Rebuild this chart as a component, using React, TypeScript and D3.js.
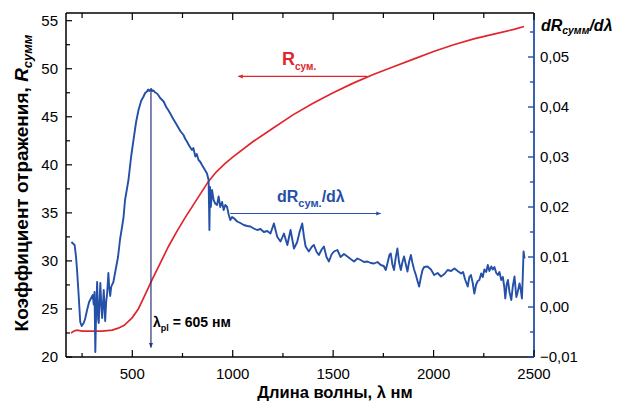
import React from 'react';
import * as d3 from 'd3';

// ---------- data ----------
const xDomain = [170, 2500];
const leftDomain = [20, 55.8];
const rightDomain = [-0.01, 0.0588];

const wavelengthTicks = [500, 1000, 1500, 2000, 2500];
const wavelengthMinor = [250, 750, 1250, 1750, 2250];
const reflTicks = [20, 25, 30, 35, 40, 45, 50, 55];
const reflMinor = [22.5, 27.5, 32.5, 37.5, 42.5, 47.5, 52.5];
const derivTicks = [-0.01, 0, 0.01, 0.02, 0.03, 0.04, 0.05];
const derivMinor = [-0.005, 0.005, 0.015, 0.025, 0.035, 0.045, 0.055];

const redNm = [195, 210, 225, 250, 300, 350, 400, 430, 460, 500, 530, 560, 600, 640, 680, 720, 760, 800, 840, 880, 920, 960, 1000, 1100, 1200, 1300, 1400, 1500, 1600, 1700, 1800, 1900, 2000, 2100, 2200, 2300, 2400, 2450];
const redR = [22.5, 22.7, 22.8, 22.7, 22.7, 22.7, 22.8, 23.0, 23.3, 24.1, 25.0, 26.3, 28.1, 29.8, 31.5, 33.0, 34.4, 35.7, 37.0, 38.3, 39.3, 40.1, 40.8, 42.4, 43.8, 45.2, 46.4, 47.5, 48.5, 49.4, 50.2, 51.0, 51.8, 52.5, 53.1, 53.6, 54.1, 54.4];

const blueNm = [197, 202, 213, 220, 225, 232, 241, 248, 258, 265, 275, 285, 298, 303, 308, 312, 316, 320, 325, 330, 333, 341, 345, 350, 358, 365, 370, 375, 381, 385, 390, 395, 400, 406, 415, 423, 429, 439, 449, 456, 464, 481, 494, 506, 519, 531, 544, 556, 564, 573, 579, 584, 589, 594, 599, 606, 614, 623, 629, 639, 656, 669, 679, 689, 704, 722, 739, 755, 764, 772, 784, 797, 804, 814, 821, 830, 839, 847, 859, 872, 880, 884, 887, 891, 897, 905, 913, 922, 930, 938, 947, 955, 963, 972, 980, 988, 997, 1005, 1022, 1038, 1055, 1072, 1088, 1105, 1122, 1138, 1155, 1172, 1188, 1205, 1222, 1238, 1255, 1272, 1288, 1305, 1321, 1333, 1346, 1355, 1363, 1379, 1393, 1404, 1418, 1429, 1443, 1454, 1467, 1479, 1492, 1504, 1521, 1537, 1554, 1571, 1587, 1604, 1621, 1637, 1654, 1671, 1687, 1704, 1721, 1737, 1752, 1762, 1772, 1780, 1787, 1795, 1803, 1812, 1820, 1828, 1837, 1845, 1853, 1862, 1870, 1878, 1887, 1895, 1903, 1912, 1920, 1928, 1937, 1945, 1953, 1970, 1987, 2003, 2020, 2037, 2054, 2070, 2087, 2104, 2120, 2137, 2147, 2157, 2170, 2178, 2186, 2195, 2203, 2212, 2220, 2228, 2237, 2245, 2253, 2262, 2270, 2278, 2287, 2295, 2303, 2312, 2320, 2328, 2337, 2345, 2352, 2357, 2364, 2370, 2378, 2387, 2394, 2403, 2412, 2419, 2428, 2434, 2440, 2444, 2448, 2453];
const blueD = [0.0130, 0.0128, 0.0124, 0.0100, 0.0074, 0.0030, -0.0030, -0.0038, -0.0032, -0.0024, -0.0006, 0.0010, 0.0020, 0.0024, 0.0005, 0.0030, -0.0090, -0.0010, 0.0050, -0.0025, -0.0032, 0.0048, 0.0010, -0.0022, 0.0034, -0.0028, 0.0010, 0.0028, 0.0068, 0.0040, 0.0022, 0.0040, 0.0045, 0.0050, 0.0070, 0.0087, 0.0100, 0.0135, 0.0160, 0.0178, 0.0214, 0.0254, 0.0300, 0.0334, 0.0370, 0.0394, 0.0412, 0.0421, 0.0428, 0.0431, 0.0435, 0.0432, 0.0434, 0.0436, 0.0432, 0.0433, 0.0429, 0.0427, 0.0424, 0.0418, 0.0411, 0.0400, 0.0394, 0.0387, 0.0376, 0.0364, 0.0352, 0.0344, 0.0336, 0.0331, 0.0322, 0.0314, 0.0318, 0.0301, 0.0306, 0.0294, 0.0290, 0.0284, 0.0276, 0.0267, 0.0254, 0.0154, 0.0240, 0.0200, 0.0234, 0.0214, 0.0207, 0.0204, 0.0221, 0.0200, 0.0210, 0.0194, 0.0204, 0.0200, 0.0185, 0.0174, 0.0180, 0.0178, 0.0171, 0.0168, 0.0164, 0.0162, 0.0161, 0.0157, 0.0154, 0.0156, 0.0150, 0.0152, 0.0147, 0.0167, 0.0140, 0.0131, 0.0147, 0.0124, 0.0154, 0.0117, 0.0130, 0.0150, 0.0167, 0.0140, 0.0121, 0.0111, 0.0120, 0.0124, 0.0110, 0.0104, 0.0115, 0.0121, 0.0100, 0.0091, 0.0105, 0.0111, 0.0114, 0.0100, 0.0106, 0.0101, 0.0096, 0.0091, 0.0097, 0.0094, 0.0090, 0.0091, 0.0088, 0.0087, 0.0090, 0.0084, 0.0082, 0.0074, 0.0090, 0.0104, 0.0107, 0.0085, 0.0074, 0.0100, 0.0117, 0.0090, 0.0074, 0.0090, 0.0101, 0.0085, 0.0071, 0.0090, 0.0104, 0.0088, 0.0075, 0.0064, 0.0052, 0.0041, 0.0060, 0.0074, 0.0080, 0.0081, 0.0075, 0.0064, 0.0068, 0.0061, 0.0066, 0.0074, 0.0072, 0.0077, 0.0072, 0.0067, 0.0070, 0.0055, 0.0041, 0.0060, 0.0064, 0.0048, 0.0027, 0.0045, 0.0052, 0.0054, 0.0067, 0.0060, 0.0075, 0.0070, 0.0084, 0.0072, 0.0081, 0.0075, 0.0080, 0.0068, 0.0064, 0.0070, 0.0054, 0.0060, 0.0040, 0.0017, 0.0045, 0.0054, 0.0030, 0.0014, 0.0040, 0.0061, 0.0020, 0.0030, 0.0047, 0.0035, 0.0017, 0.0060, 0.0111, 0.0097];

// annotations (data units)
const lambdaPl = 593;
const lambdaPlTop = 0.0434;
const lambdaPlBottom = -0.0081;
const redArrow = { from: 1670, to: 1028, value: 49.2 };
const blueArrow = { from: 988, to: 1737, value: 0.0187 };

const RED = '#e0262c';
const BLUE = '#2450a8';
const NAVY = '#2a3578';

const W = 617, H = 406;
const M = { left: 66, right: 83, top: 13, bottom: 49 };

export default function App() {
  const x = d3.scaleLinear().domain(xDomain).range([M.left, W - M.right]);
  const yL = d3.scaleLinear().domain(leftDomain).range([H - M.bottom, M.top]);
  const yR = d3.scaleLinear().domain(rightDomain).range([H - M.bottom, M.top]);
  const x0 = M.left, x1 = W - M.right, yb = H - M.bottom, yt = M.top;

  const redPath = d3.line<number>().x((_, i) => x(redNm[i])).y((d) => yL(d))(redR) || '';
  const bluePath = d3.line<number>().x((_, i) => x(blueNm[i])).y((d) => yR(d))(blueD) || '';
  const fmtR = (v: number) => d3.format('.2f')(v).replace('.', ',');
  const font = "'Liberation Sans', Arial, sans-serif";

  return (
    <svg width={W} height={H} style={{ position: 'absolute', left: 0, top: 0, background: '#fff' }} fontFamily={font}>
      <defs>
        <marker id="ahRed" viewBox="0 0 10 10" refX="9" refY="5" markerWidth="5" markerHeight="5" orient="auto" markerUnits="userSpaceOnUse">
          <path d="M0,1 L10,5 L0,9 z" fill={RED} />
        </marker>
        <marker id="ahBlue" viewBox="0 0 10 10" refX="9" refY="5" markerWidth="5" markerHeight="5" orient="auto" markerUnits="userSpaceOnUse">
          <path d="M0,1 L10,5 L0,9 z" fill={BLUE} />
        </marker>
        <marker id="ahNavy" viewBox="0 0 10 10" refX="9" refY="5" markerWidth="5" markerHeight="6" orient="auto" markerUnits="userSpaceOnUse">
          <path d="M0,1 L10,5 L0,9 z" fill={NAVY} />
        </marker>
        <clipPath id="plot"><rect x={x0} y={yt} width={x1 - x0} height={yb - yt} /></clipPath>
      </defs>

      {/* curves */}
      <g clipPath="url(#plot)">
        <path d={redPath} fill="none" stroke={RED} strokeWidth={1.7} />
        <path d={bluePath} fill="none" stroke={BLUE} strokeWidth={1.9} strokeLinejoin="round" />
      </g>

      {/* annotations */}
      <line x1={x(lambdaPl)} x2={x(lambdaPl)} y1={yR(lambdaPlTop)} y2={yR(lambdaPlBottom)} stroke={NAVY} strokeWidth={1.2} markerEnd="url(#ahNavy)" />
      <line x1={x(redArrow.from)} x2={x(redArrow.to)} y1={yL(redArrow.value)} y2={yL(redArrow.value)} stroke={RED} strokeWidth={1.2} markerEnd="url(#ahRed)" />
      <line x1={x(blueArrow.from)} x2={x(blueArrow.to)} y1={yR(blueArrow.value)} y2={yR(blueArrow.value)} stroke={BLUE} strokeWidth={1.2} markerEnd="url(#ahBlue)" />

      <text x={282} y={65} fill={RED} fontWeight="bold" fontSize={18}>R<tspan fontSize={10} dy={5}>сум.</tspan></text>
      <text x={277} y={202} fill={BLUE} fontWeight="bold" fontSize={16}>dR<tspan fontSize={11} dy={5}>сум.</tspan><tspan fontSize={16} dy={-5}>/dλ</tspan></text>
      <text x={153} y={327} fill="#000" fontWeight="bold" fontSize={14}>λ<tspan fontSize={9} dy={4}>pl</tspan><tspan fontSize={14} dy={-4}> = 605 нм</tspan></text>

      {/* frame */}
      <line x1={x0} x2={x1} y1={yb} y2={yb} stroke="#000" strokeWidth={1.5} />
      <line x1={x0} x2={x1} y1={yt} y2={yt} stroke="#000" strokeWidth={1.5} />
      <line x1={x0} x2={x0} y1={yt} y2={yb} stroke="#000" strokeWidth={1.5} />
      <line x1={x1} x2={x1} y1={yt} y2={yb} stroke={BLUE} strokeWidth={1.8} />

      {/* x ticks */}
      {wavelengthTicks.map((t) => (
        <g key={'xt' + t}>
          <line x1={x(t)} x2={x(t)} y1={yb} y2={yb - 7} stroke="#000" strokeWidth={1.2} />
          <line x1={x(t)} x2={x(t)} y1={yt} y2={yt + 7} stroke="#000" strokeWidth={1.2} />
          <text x={x(t)} y={379} textAnchor="middle" fontSize={15} fill="#000">{t}</text>
        </g>
      ))}
      {wavelengthMinor.map((t) => (
        <g key={'xm' + t}>
          <line x1={x(t)} x2={x(t)} y1={yb} y2={yb - 4} stroke="#000" strokeWidth={1.2} />
          <line x1={x(t)} x2={x(t)} y1={yt} y2={yt + 5} stroke="#000" strokeWidth={1.2} />
        </g>
      ))}

      {/* left ticks */}
      {reflTicks.map((t) => (
        <g key={'yl' + t}>
          <line x1={x0} x2={x0 + 6} y1={yL(t)} y2={yL(t)} stroke="#000" strokeWidth={1.2} />
          <text x={58} y={yL(t) + 5} textAnchor="end" fontSize={15} fill="#000">{t}</text>
        </g>
      ))}
      {reflMinor.map((t) => (
        <line key={'ylm' + t} x1={x0} x2={x0 + 4} y1={yL(t)} y2={yL(t)} stroke="#000" strokeWidth={1.2} />
      ))}

      {/* right ticks */}
      {derivTicks.map((t) => (
        <g key={'yr' + t}>
          <line x1={x1} x2={x1 - 6} y1={yR(t)} y2={yR(t)} stroke={BLUE} strokeWidth={1.4} />
          <text x={540} y={yR(t) + 5} textAnchor="start" fontSize={15} fill="#000">{fmtR(t)}</text>
        </g>
      ))}
      {derivMinor.map((t) => (
        <line key={'yrm' + t} x1={x1} x2={x1 - 4} y1={yR(t)} y2={yR(t)} stroke={BLUE} strokeWidth={1.4} />
      ))}

      {/* axis titles */}
      <text x={335} y={398} textAnchor="middle" fontWeight="bold" fontSize={16.5} fill="#000">Длина волны, λ нм</text>
      <text transform="translate(28,183) rotate(-90)" textAnchor="middle" fontWeight="bold" fontSize={19} fill="#000">
        Коэффициент отражения, <tspan fontStyle="italic">R</tspan><tspan fontStyle="italic" fontSize={13} dy={4}>сумм</tspan>
      </text>
      <text x={541} y={31} fontWeight="bold" fontStyle="italic" fontSize={16} fill="#000">dR<tspan fontSize={10.5} dy={3}>сумм</tspan><tspan fontSize={16} dy={-3}>/dλ</tspan></text>
    </svg>
  );
}
